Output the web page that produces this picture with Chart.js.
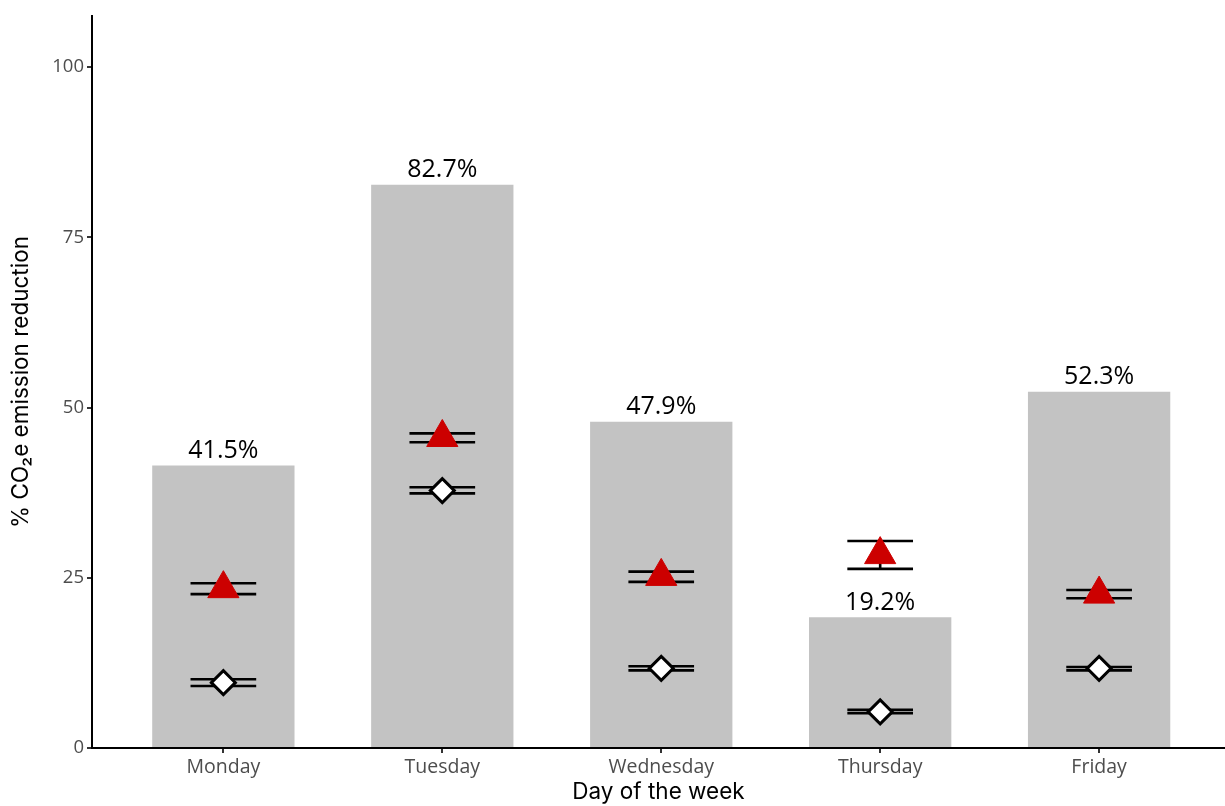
<!DOCTYPE html>
<html>
<head>
<meta charset="utf-8">
<script src="https://cdn.jsdelivr.net/npm/chart.js@4.4.1/dist/chart.umd.min.js"></script>
<style>
  html, body { margin: 0; padding: 0; background: #ffffff; overflow: hidden; }
  #wrap { width: 1225px; height: 806px; }
</style>
</head>
<body>
<div id="wrap"><canvas id="chart" width="1225" height="806"></canvas></div>
<script>
// Days of the week shown on the x axis
const days = ['Monday', 'Tuesday', 'Wednesday', 'Thursday', 'Friday'];
// Total % CO2e emission reduction per day (bars)
const reduction = [41.5, 82.7, 47.9, 19.2, 52.3];
// Red triangle estimates with their interval ends
const triMean = [23.4, 45.6, 25.2, 28.4, 22.6];
const triLow  = [22.6, 44.9, 24.4, 26.3, 22.0];
const triHigh = [24.2, 46.2, 25.9, 30.4, 23.2];
// White diamond estimates with their interval ends
const diaMean = [9.6, 37.8, 11.7, 5.3, 11.7];
const diaLow  = [9.1, 37.4, 11.4, 5.1, 11.4];
const diaHigh = [10.1, 38.3, 12.0, 5.6, 11.9];
// Y axis tick values
const yTicks = [0, 25, 50, 75, 100];

const FONT = '"Open Sans", "Noto Sans", sans-serif';
const TITLE_FONT = 'Inter, "Open Sans", sans-serif';

const toXY = arr => arr.map((v, i) => ({ x: i + 1, y: v }));

// Interval bars drawn on top of the grey bars, under the markers
const errorBars = {
  id: 'errorBars',
  beforeDatasetDraw(chart, args) {
    if (args.index !== 1) return;
    const { ctx, scales: { x, y } } = chart;
    const sets = [[triLow, triHigh], [diaLow, diaHigh]];
    ctx.save();
    ctx.strokeStyle = '#000000';
    ctx.lineWidth = 2.6;
    ctx.lineCap = 'butt';
    sets.forEach(([lo, hi]) => {
      lo.forEach((l, i) => {
        const h = hi[i];
        const xl = x.getPixelForValue(i + 1 - 0.15);
        const xr = x.getPixelForValue(i + 1 + 0.15);
        const xc = x.getPixelForValue(i + 1);
        const yl = y.getPixelForValue(l);
        const yh = y.getPixelForValue(h);
        ctx.beginPath();
        ctx.moveTo(xl, yl); ctx.lineTo(xr, yl);
        ctx.moveTo(xl, yh); ctx.lineTo(xr, yh);
        ctx.moveTo(xc, yl); ctx.lineTo(xc, yh);
        ctx.stroke();
      });
    });
    ctx.restore();
  }
};

// Value labels above each bar
const barLabels = {
  id: 'barLabels',
  afterDatasetsDraw(chart) {
    const { ctx, scales: { x, y } } = chart;
    ctx.save();
    ctx.fillStyle = '#000000';
    ctx.font = '25px ' + FONT;
    ctx.textAlign = 'center';
    ctx.textBaseline = 'bottom';
    reduction.forEach((v, i) => {
      ctx.fillText(v.toFixed(1) + '%', x.getPixelForValue(i + 1), y.getPixelForValue(v) - 2);
    });
    ctx.restore();
  }
};

new Chart(document.getElementById('chart'), {
  type: 'bar',
  data: {
    datasets: [
      {
        type: 'bar',
        data: toXY(reduction),
        backgroundColor: '#c3c3c3',
        borderWidth: 0,
        categoryPercentage: 1,
        barPercentage: 0.65,
        order: 3
      },
      {
        type: 'scatter',
        data: toXY(triMean),
        pointStyle: 'triangle',
        pointRadius: 18,
        pointBackgroundColor: '#cc0000',
        pointBorderColor: '#cc0000',
        pointBorderWidth: 1,
        order: 2
      },
      {
        type: 'scatter',
        data: toXY(diaMean),
        pointStyle: 'rectRot',
        pointRadius: 12,
        pointBackgroundColor: '#ffffff',
        pointBorderColor: '#000000',
        pointBorderWidth: 3,
        order: 1
      }
    ]
  },
  options: {
    responsive: false,
    animation: false,
    layout: { autoPadding: false, padding: { top: 16, right: 0, left: 0, bottom: 0 } },
    plugins: {
      legend: { display: false },
      tooltip: { enabled: false }
    },
    scales: {
      x: {
        type: 'linear',
        offset: false,
        min: 0.4,
        max: 5.575,
        afterBuildTicks: s => { s.ticks = days.map((d, i) => ({ value: i + 1 })); },
        afterFit: s => { s.height = 58; s.paddingLeft = 0; s.paddingRight = 0; },
        ticks: {
          autoSkip: false,
          maxRotation: 0,
          color: '#4d4d4d',
          font: { family: FONT, size: 19.5 },
          padding: 3,
          callback: v => days[v - 1]
        },
        grid: { offset: false, drawOnChartArea: false, drawTicks: true, tickLength: 5, color: '#333333', lineWidth: 2 },
        border: { display: true, color: '#000000', width: 2 },
        title: {
          display: true,
          text: 'Day of the week',
          color: '#000000',
          font: { family: TITLE_FONT, size: 22.5 },
          padding: { top: 0, bottom: 0 }
        }
      },
      y: {
        min: 0,
        max: 107.5,
        afterBuildTicks: s => { s.ticks = yTicks.map(v => ({ value: v })); },
        afterFit: s => { s.width = 92; },
        ticks: {
          color: '#4d4d4d',
          font: { family: FONT, size: 18.5 },
          padding: 3
        },
        grid: { drawOnChartArea: false, drawTicks: true, tickLength: 5, color: '#333333', lineWidth: 2 },
        border: { display: true, color: '#000000', width: 2 },
        title: {
          display: true,
          text: '% CO\u2082e emission reduction',
          color: '#000000',
          font: { family: TITLE_FONT, size: 22.5 },
          padding: { top: 8, bottom: 0 }
        }
      }
    }
  },
  plugins: [errorBars, barLabels]
});
</script>
</body>
</html>
